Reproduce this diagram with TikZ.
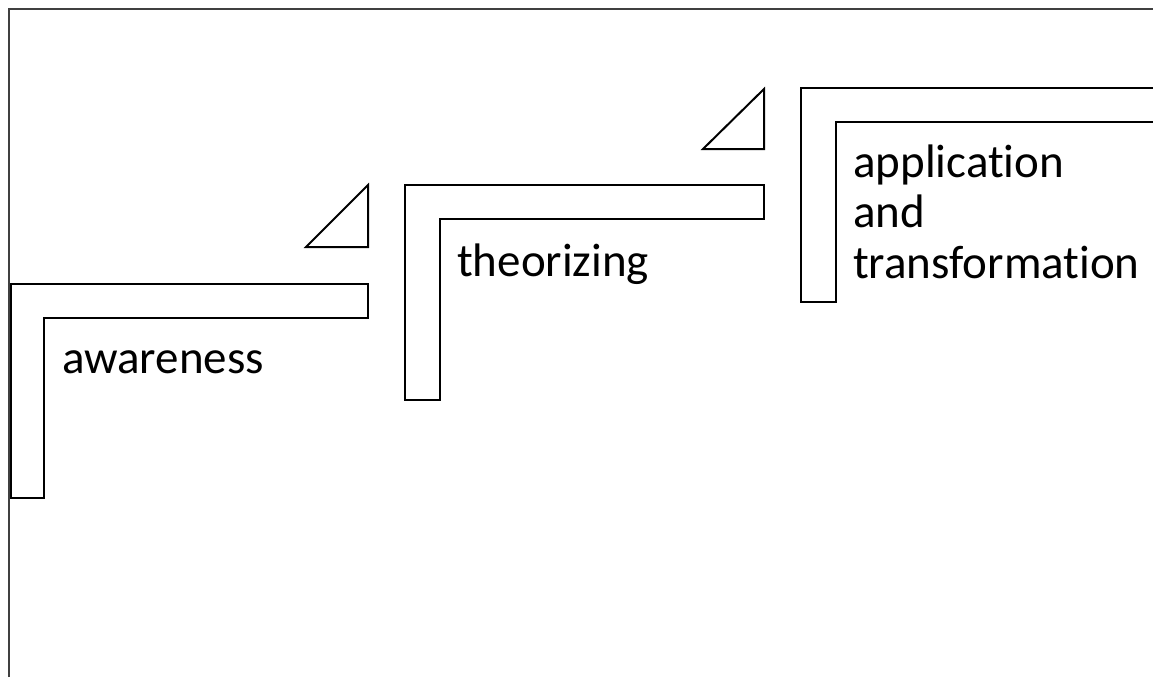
\documentclass[tikz,border=0pt]{standalone}
\usepackage{fontspec}
\setmainfont[Ligatures=NoCommon]{Carlito}
\tikzset{
  stair/.style={line width=2pt, color=black},
  frameline/.style={line width=1.2pt, color=black!75},
  steplabel/.style={anchor=base west, inner sep=0pt, align=left,
    font=\fontsize{47}{50.5}\selectfont}
}
\begin{document}
\begin{tikzpicture}[x=1pt, y=-1pt]
			%%%%% START %%%%%
			\useasboundingbox (0, 0) rectangle (1153, 677);
			
			\draw[frameline] (9, 677) -- (9, 9) -- (1153, 9);
			
			% first step
			\draw[stair] (11, 284) -- (368, 284) -- (368, 318) -- (44, 318) -- (44, 498) -- (11, 498) -- cycle;
			\draw[stair] (306, 247) -- (368, 247) -- (368, 185) -- cycle;
			\node[steplabel] (awareness) at (62, 373) {awareness};
			
			% second step
			\draw[stair] (405, 185) -- (764, 185) -- (764, 219) -- (440, 219) -- (440, 400) -- (405, 400) -- cycle;
			\draw[stair] (703, 149) -- (764, 149) -- (764, 89) -- cycle;
			\node[steplabel] (theorizing) at (457, 276) {theorizing};
			
			% third step
			\draw[stair] (1153, 88) -- (801, 88) -- (801, 302) -- (836, 302) -- (836, 122) -- (1153, 122);
			\node[steplabel] (application) at (853, 278) {application\\and\\transformation};
			
			%%%%% END %%%%%
\end{tikzpicture}
\end{document}
